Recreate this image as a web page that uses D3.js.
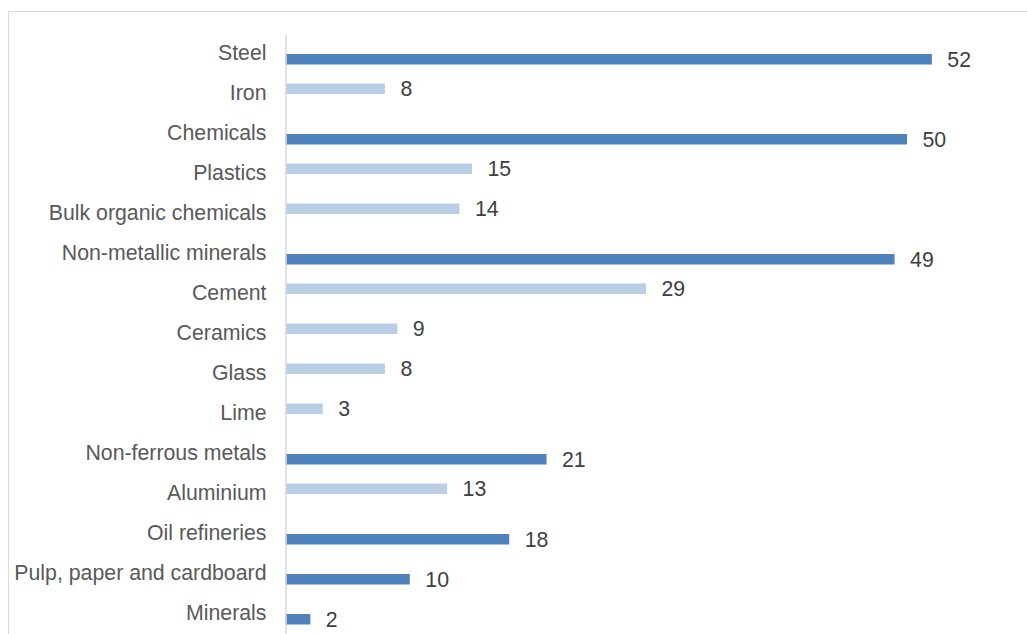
<!DOCTYPE html>
<html>
<head>
<meta charset="utf-8">
<script src="https://cdn.jsdelivr.net/npm/d3@7"></script>
<style>
  html, body { margin: 0; padding: 0; background: #ffffff; }
  svg { display: block; }
</style>
</head>
<body>
<script>
const categories = [
  "Steel", "Iron", "Chemicals", "Plastics", "Bulk organic chemicals",
  "Non-metallic minerals", "Cement", "Ceramics", "Glass", "Lime",
  "Non-ferrous metals", "Aluminium", "Oil refineries",
  "Pulp, paper and cardboard", "Minerals"
];
const mainValues = [52, null, 50, null, null, 49, null, null, null, null, 21, null, 18, 10, 2];
const subValues  = [null, 8, null, 15, 14, null, 29, 9, 8, 3, null, 13, null, null, null];
const seriesKeys = ["sub", "main"];

const W = 1027, H = 634;
const svg = d3.select("body").append("svg").attr("width", W).attr("height", H);

// outer chart border
svg.append("rect")
  .attr("x", 8.5).attr("y", 11.5)
  .attr("width", W + 10).attr("height", H + 10)
  .attr("fill", "none").attr("stroke", "#d9d9d9").attr("stroke-width", 1);

const x = d3.scaleLinear().domain([0, 60]).range([285.5, 285.5 + 60 * 12.43]);
const y = d3.scaleBand().domain(categories).range([34, 634]).padding(0);
const inner = d3.scaleBand().domain(seriesKeys).range([9.5, 30.5]).padding(0);

const rows = [];
categories.forEach((c, i) => {
  if (mainValues[i] != null) rows.push({ cat: c, key: "main", v: mainValues[i] });
  if (subValues[i] != null) rows.push({ cat: c, key: "sub", v: subValues[i] });
});
const colors = { main: "#4f81bd", sub: "#b9cde5" };

svg.append("g").selectAll("rect").data(rows).join("rect")
  .attr("x", x(0))
  .attr("y", d => y(d.cat) + inner(d.key))
  .attr("width", d => x(d.v) - x(0))
  .attr("height", inner.bandwidth())
  .attr("fill", d => colors[d.key]);

svg.append("g").selectAll("text").data(rows).join("text")
  .attr("x", d => x(d.v) + 15.5)
  .attr("y", d => y(d.cat) + inner(d.key) + inner.bandwidth() / 2)
  .attr("dy", "0.35em")
  .attr("font-family", "Liberation Sans, Arial, sans-serif")
  .attr("font-size", 21.3)
  .attr("fill", "#404040")
  .text(d => d.v);

// category axis
const axis = d3.axisLeft(y).tickSize(0).tickPadding(19);
const gAxis = svg.append("g").attr("transform", `translate(${x(0)},0)`).call(axis);
gAxis.select(".domain").attr("stroke", "#d9d9d9").attr("stroke-width", 1.5);
gAxis.selectAll("text")
  .attr("font-family", "Liberation Sans, Arial, sans-serif")
  .attr("font-size", 21.3)
  .attr("fill", "#595959")
  .attr("dy", "0.3em");
</script>
</body>
</html>
